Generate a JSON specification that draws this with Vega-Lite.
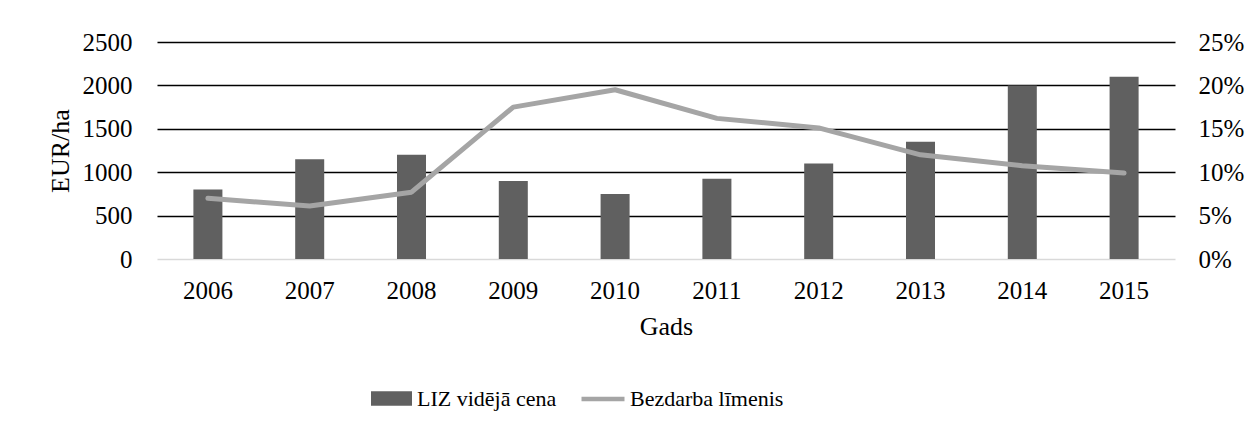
{
  "$schema": "https://vega.github.io/schema/vega-lite/v6.json",
  "width": 1018,
  "height": 217,
  "autosize": {"type": "none"},
  "padding": {"left": 157, "top": 42, "right": 81, "bottom": 174},
  "background": "white",
  "config": {
    "font": "Liberation Serif, Times New Roman, DejaVu Serif, serif",
    "view": {"stroke": null},
    "axis": {
      "labelFont": "Liberation Serif, Times New Roman, DejaVu Serif, serif",
      "titleFont": "Liberation Serif, Times New Roman, DejaVu Serif, serif",
      "labelColor": "black",
      "titleColor": "black",
      "titleFontWeight": "normal",
      "labelFontSize": 25,
      "titleFontSize": 26,
      "ticks": false,
      "domain": false
    },
    "legend": {
      "labelFont": "Liberation Serif, Times New Roman, DejaVu Serif, serif",
      "labelFontSize": 22,
      "labelColor": "black",
      "padding": 0
    }
  },
  "data": {
    "values": [
      {"year": "2006", "price": 800, "unemp": 0.070},
      {"year": "2007", "price": 1150, "unemp": 0.061},
      {"year": "2008", "price": 1200, "unemp": 0.077},
      {"year": "2009", "price": 900, "unemp": 0.175},
      {"year": "2010", "price": 750, "unemp": 0.195},
      {"year": "2011", "price": 925, "unemp": 0.162},
      {"year": "2012", "price": 1100, "unemp": 0.151},
      {"year": "2013", "price": 1350, "unemp": 0.120},
      {"year": "2014", "price": 2000, "unemp": 0.1075},
      {"year": "2015", "price": 2100, "unemp": 0.099}
    ]
  },
  "encoding": {
    "x": {
      "field": "year",
      "type": "ordinal",
      "scale": {"paddingInner": 0, "paddingOuter": 0},
      "axis": {"title": "Gads", "labelAngle": 0, "labelPadding": 19, "titlePadding": 10, "grid": false}
    }
  },
  "layer": [
    {
      "mark": {"type": "bar", "width": {"band": 0.285}},
      "encoding": {
        "y": {
          "field": "price",
          "type": "quantitative",
          "scale": {"domain": [0, 2500]},
          "axis": {
            "title": "EUR/ha",
            "format": "d",
            "values": [0, 500, 1000, 1500, 2000, 2500],
            "grid": true,
            "gridColor": {"condition": {"test": "datum.value === 0", "value": "#d9d9d9"}, "value": "black"},
            "gridWidth": 1.5,
            "labelPadding": 25,
            "titlePadding": 9
          }
        },
        "fill": {
          "datum": "LIZ vidējā cena",
          "scale": {"range": ["#606060"]},
          "legend": {
            "title": null,
            "orient": "none",
            "legendX": 214,
            "legendY": 336,
            "symbolType": "M-1,-0.35H1V0.35H-1Z",
            "symbolSize": 1681,
            "symbolStrokeWidth": 0,
            "labelOffset": 5
          }
        }
      }
    },
    {
      "mark": {"type": "line", "strokeWidth": 5, "strokeCap": "round", "strokeJoin": "round"},
      "encoding": {
        "y": {
          "field": "unemp",
          "type": "quantitative",
          "scale": {"domain": [0, 0.25]},
          "axis": {
            "title": null,
            "orient": "right",
            "format": ".0%",
            "values": [0, 0.05, 0.1, 0.15, 0.2, 0.25],
            "grid": false,
            "labelPadding": 23
          }
        },
        "stroke": {
          "datum": "Bezdarba līmenis",
          "scale": {"range": ["#a5a5a5"]},
          "legend": {
            "title": null,
            "orient": "none",
            "legendX": 422,
            "legendY": 333,
            "symbolType": "stroke",
            "symbolSize": 1849,
            "symbolStrokeWidth": 4.5,
            "labelOffset": 3
          }
        }
      }
    }
  ],
  "resolve": {"scale": {"y": "independent", "fill": "independent", "stroke": "independent"}}
}
